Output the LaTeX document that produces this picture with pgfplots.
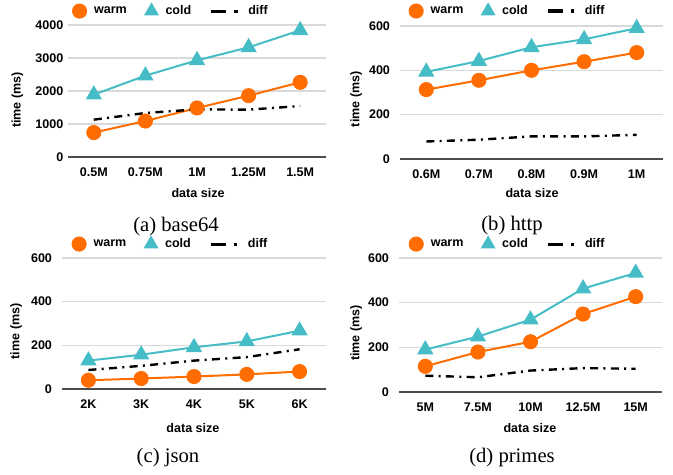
\documentclass[border=0pt]{standalone}
\usepackage{pgfplots}
\pgfplotsset{compat=1.18}
\usepackage{fontspec}
\setmainfont{Liberation Sans}
\newfontfamily\capfont{Liberation Serif}
\definecolor{warmc}{HTML}{FF6D01}
\definecolor{coldc}{HTML}{46BDC6}
\definecolor{gridc}{HTML}{D9D9D9}
\definecolor{axisc}{HTML}{4D4D4D}
\newcommand\tkfont{\fontsize{9.4}{11}\selectfont\bfseries}
\pgfplotsset{
  panel/.style={
    scale only axis, anchor=south west, clip=false,
    xmin=-0.5, xmax=4.5, xtick={0,1,2,3,4}, ymin=0,
    axis x line=bottom, axis y line=left, axis line style={-},
    y axis line style={draw=none},
    x axis line style={draw=axisc, line width=0.9pt},
    major tick length=0pt,
    ymajorgrids, grid style={gridc, line width=0.8pt},
    tick label style={font=\tkfont},
    xticklabel style={yshift=-4.7pt},
    label style={font=\tkfont},
    xlabel={data size}, ylabel={time (ms)},
    scaled y ticks=false,
    /pgf/number format/assume math mode=true,
    /pgf/number format/1000 sep={},
    legend columns=3,
    legend style={draw=none, fill=none, font=\tkfont, anchor=center,
      inner sep=0pt, outer sep=0pt, nodes={inner sep=0pt},
      /tikz/every odd column/.append style={column sep=6pt},
      /tikz/every even column/.append style={column sep=14pt}},
  },
  warm/.style={color=warmc, line width=1.5pt, mark=*, mark size=4.9pt,
    mark options={draw=none, fill=warmc},
    legend image code/.code={\path[draw=none,fill=none] (0pt,0pt) -- (9.8pt,0pt); \draw[##1, only marks] plot coordinates {(4.9pt,0pt)};}},
  cold/.style={color=coldc, line width=1.5pt, mark=triangle*, mark size=5.6pt,
    mark options={draw=none, fill=coldc},
    legend image code/.code={\path[draw=none,fill=none] (0pt,0pt) -- (9pt,0pt); \draw[##1, only marks, mark size=5pt] plot coordinates {(4.5pt,0pt)};}},
  diff/.style={color=black, line width=1.8pt, dash pattern=on 6pt off 4pt on 1.5pt off 4pt,
    legend image code/.code={\draw[black, line width=2.3pt, dash pattern=on 11.25pt off 6pt on 2.5pt off 10pt] (0pt,0pt) -- (20.5pt,0pt);}},
}
\begin{document}
\begin{tikzpicture}
\path (0pt,0pt) rectangle (504.75pt,355.5pt);
% (a) base64
\begin{axis}[panel, at={(51pt,237.75pt)}, width=193.5pt, height=99pt,
  ymax=4000, ytick={0,1000,2000,3000,4000},
  xticklabels={0.5M,0.75M,1M,1.25M,1.5M},
  xlabel style={at={(axis description cs:0.504,-0.273)}, anchor=center},
  ylabel style={at={(axis description cs:-0.196,0.432)}, anchor=center},
  legend style={at={(axis description cs:0.397,1.106)}}]
\addplot[warm] coordinates {(0,740) (1,1090) (2,1485) (3,1858) (4,2263)};
\addplot[cold] coordinates {(0,1889) (1,2465) (2,2929) (3,3323) (4,3838)};
\addplot[diff] coordinates {(0,1131) (1,1333) (2,1444) (3,1434) (4,1545)};
\legend{warm,cold,diff}
\end{axis}
% (b) http
\begin{axis}[panel, at={(300pt,236.25pt)}, width=197.25pt, height=99.75pt,
  ymax=600, ytick={0,200,400,600},
  yticklabel style={xshift=-4pt},
  xticklabels={0.6M,0.7M,0.8M,0.9M,1M},
  xlabel style={at={(axis description cs:0.502,-0.256)}, anchor=center},
  ylabel style={at={(axis description cs:-0.167,0.45)}, anchor=center},
  legend style={at={(axis description cs:0.407,1.113)}}]
\addplot[warm] coordinates {(0,313) (1,355) (2,400) (3,439) (4,480)};
\addplot[cold] coordinates {(0,393) (1,442) (2,504) (3,540) (4,590)};
\addplot[diff] coordinates {(0,79) (1,87) (2,102) (3,102) (4,109)};
\legend{warm,cold,diff}
\end{axis}
% (c) json
\begin{axis}[panel, at={(46.5pt,63.75pt)}, width=198pt, height=98.25pt,
  ymax=600, ytick={0,200,400,600},
  yticklabel style={xshift=-4pt},
  xticklabels={2K,3K,4K,5K,6K},
  xlabel style={at={(axis description cs:0.496,-0.298)}, anchor=center},
  ylabel style={at={(axis description cs:-0.174,0.44)}, anchor=center},
  legend style={at={(axis description cs:0.409,1.107)}}]
\addplot[warm] coordinates {(0,40) (1,48) (2,57) (3,67) (4,80)};
\addplot[cold] coordinates {(0,130) (1,157) (2,191) (3,218) (4,267)};
\addplot[diff] coordinates {(0,87) (1,106) (2,130) (3,146) (4,182)};
\legend{warm,cold,diff}
\end{axis}
% (d) primes
\begin{axis}[panel, at={(299.25pt,61.5pt)}, width=197.25pt, height=100.5pt,
  ymax=600, ytick={0,200,400,600},
  yticklabel style={xshift=-4pt},
  xticklabels={5M,7.5M,10M,12.5M,15M},
  xlabel style={at={(axis description cs:0.498,-0.269)}, anchor=center},
  ylabel style={at={(axis description cs:-0.163,0.44)}, anchor=center},
  legend style={at={(axis description cs:0.411,1.104)}}]
\addplot[warm] coordinates {(0,115) (1,179) (2,225) (3,349) (4,427)};
\addplot[cold] coordinates {(0,190) (1,248) (2,324) (3,463) (4,533)};
\addplot[diff] coordinates {(0,73) (1,66) (2,96) (3,107) (4,104)};
\legend{warm,cold,diff}
\end{axis}
\node[font=\capfont\fontsize{15.5}{17}\selectfont] at (132pt,185.6pt) {(a) base64};
\node[font=\capfont\fontsize{15.5}{17}\selectfont] at (384pt,186.5pt) {(b) http};
\node[font=\capfont\fontsize{15.5}{17}\selectfont] at (126pt,12pt) {(c) json};
\node[font=\capfont\fontsize{15.5}{17}\selectfont] at (384pt,12pt) {(d) primes};
\end{tikzpicture}
\end{document}
